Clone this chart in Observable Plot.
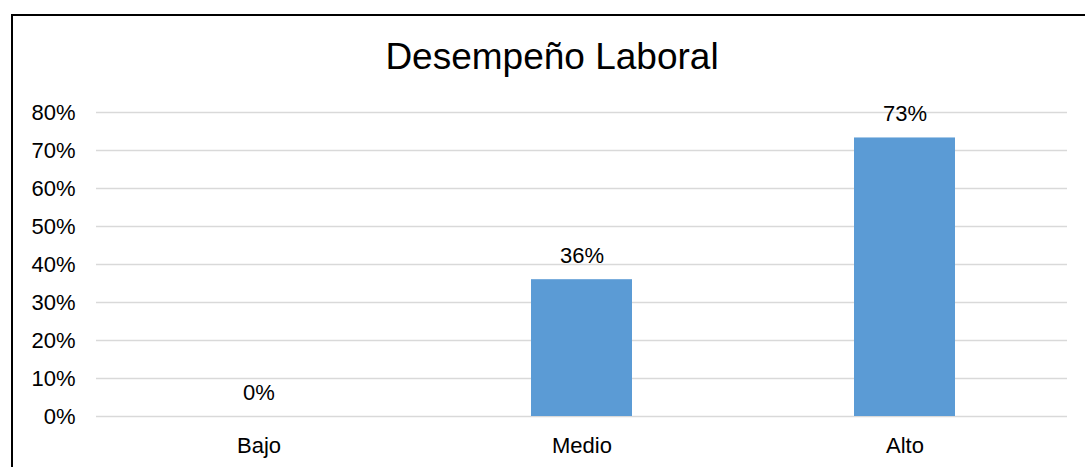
<!DOCTYPE html>
<html>
<head>
<meta charset="utf-8">
<script src="https://cdn.jsdelivr.net/npm/d3@7"></script>
<script src="https://cdn.jsdelivr.net/npm/@observablehq/plot@0.6"></script>
<style>
  html, body { margin: 0; padding: 0; background: #fff; }
  #wrap { position: relative; width: 1085px; height: 467px; overflow: hidden; background: #fff; }
  #frame { position: absolute; left: 11px; top: 14px; width: 2000px; height: 1000px; border: 2px solid #000; box-sizing: border-box; }
  #chart { position: absolute; left: 0; top: 0; }
</style>
</head>
<body>
<div id="wrap"><div id="frame"></div><div id="chart"></div></div>
<script>
const title = "Desempeño Laboral";
const categories = ["Bajo", "Medio", "Alto"];
const values = [0, 0.36, 0.733];
const yTicks = [0, 0.1, 0.2, 0.3, 0.4, 0.5, 0.6, 0.7, 0.8];

const data = categories.map((c, i) => ({category: c, value: values[i]}));
const fmt = d3.format(".0%");
const font = "Liberation Sans, Arial, sans-serif";

const chart = Plot.plot({
  width: 1085,
  height: 467,
  marginLeft: 96,
  marginRight: 18,
  marginTop: 112,
  marginBottom: 51,
  style: {fontFamily: font, background: "transparent", color: "#000"},
  x: {domain: categories, paddingInner: 0.688, paddingOuter: 0.344, label: null},
  y: {domain: [0, 0.8], label: null},
  marks: [
    Plot.gridY(yTicks, {stroke: "#d9d9d9", strokeOpacity: 1, strokeWidth: 1.5}),
    Plot.barY(data, {x: "category", y: "value", fill: "#5b9bd5"}),
    Plot.text(data, {x: "category", y: "value", text: d => fmt(d.value), dy: -24, fontSize: 22, fill: "#000"}),
    Plot.axisY(yTicks, {tickFormat: fmt, tickSize: 0, tickPadding: 21, fontSize: 22, fill: "#000"}),
    Plot.axisX({tickSize: 0, tickPadding: 21, fontSize: 22, fill: "#000"}),
    Plot.text([title], {frameAnchor: "top", lineAnchor: "middle", dy: -55, dx: -30, fontSize: 37, fill: "#000", text: d => d})
  ]
});
document.getElementById("chart").appendChild(chart);
</script>
</body>
</html>
